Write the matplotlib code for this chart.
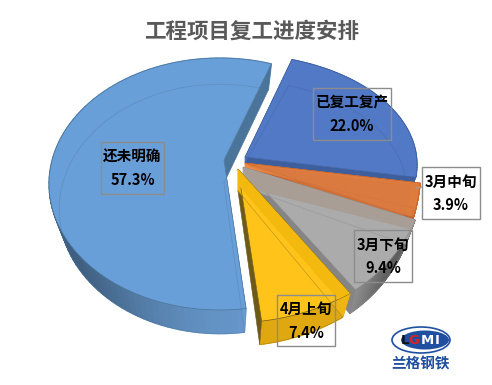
import matplotlib
matplotlib.use("Agg")
import matplotlib.pyplot as plt
import matplotlib.colors as mc
from matplotlib.patches import Polygon, Rectangle, Ellipse
import numpy as np

plt.rcParams["font.family"] = ["Noto Sans CJK SC", "DejaVu Sans"]

# Data
labels = ["还未明确", "4月上旬", "3月下旬", "3月中旬", "已复工复产"]
values = [57.3, 7.4, 9.4, 3.9, 22.0]
title = "工程项目复工进度安排"

# Layout of the exploded slices, in pixels (cx, cy, a, b, apex x, apex y, apex depth)
geom = [
    (220, 184, 171, 126, 224, 160, 23),
    (230, 163, 207, 160, 238, 169, 22),
    (258, 166, 168, 152, 243, 167, 20),
    (301, 166, 120, 145, 245, 163, 5),
    (238, 164.5, 179, 110, 245, 157, 6),
]
order = [2, 6, 5, 4, 3]
top_colors = ["#699FD8", "#FFC31A", "#ABABAB", "#DE7C3E", "#5279C5"]
wall_colors = ["#699BD0", "#F0B512", "#A8A8A8", "#EE8A42", "#4A6FB5"]
wall_darks = ["#3F5F80", "#E0A810", "#5E5E5E", "#D8702C", "#3F62A0"]
edge_colors = ["#4A749A", "#6E5A18", "#858585", "#C4622A", "#3E5F9E"]
dark_at = [205, 290, 328, 345, 30]
dark_width = [45, 60, 22, 40, 40]
box_xy = [(101, 142, 63, 52), (277, 295, 58, 51), (354, 230, 58, 52), (422, 167, 58, 52), (313, 88, 78, 52)]
start_angle = 72.5
depth = 25
inset_a = 0.94
inset_b = 0.99

fig = plt.figure(figsize=(4.92, 3.85), dpi=100)
ax = fig.add_axes([0, 0, 1, 1])
ax.set_xlim(0, 492)
ax.set_ylim(385, 0)
ax.axis("off")


def rim(g, t, bottom=False):
    cx, cy, a, b = g[:4]
    if bottom:
        return np.column_stack([cx + a * inset_a * np.cos(t), cy + depth + b * inset_b * -np.sin(t)])
    return np.column_stack([cx + a * np.cos(t), cy - b * np.sin(t)])


angles = start_angle + np.cumsum([0] + values) * 3.6

for i in range(len(values)):
    g = geom[i]
    t = np.radians(np.linspace(angles[i], angles[i + 1], 90))
    top_rim = rim(g, t)
    bot_rim = rim(g, t, bottom=True)
    apex = np.array([g[4], g[5]])
    apex_low = apex + [0, g[6]]
    z = order[i]

    # rim wall, shaded piece by piece
    for j in range(len(t) - 1):
        w = np.exp(-((np.degrees(t[j]) - dark_at[i]) / dark_width[i]) ** 2)
        col = np.array(mc.to_rgb(wall_colors[i])) * (1 - w) + np.array(mc.to_rgb(wall_darks[i])) * w
        quad = np.vstack([top_rim[j], top_rim[j + 1], bot_rim[j + 1], bot_rim[j]])
        ax.add_patch(Polygon(quad, fc=col, ec=col, lw=0.9, zorder=z))

    # radial walls: the one at the start of the slice is in shadow
    for k, c in ((0, edge_colors[i]), (-1, wall_colors[i])):
        wall = np.vstack([apex, top_rim[k], bot_rim[k], apex_low])
        ax.add_patch(Polygon(wall, fc=c, ec=c, lw=0.3, zorder=z + 0.05))

    # top face
    face = np.vstack([apex, top_rim])
    ax.add_patch(Polygon(face, fc=top_colors[i], ec=edge_colors[i], lw=0.5, zorder=z + 0.1))

    # bottom outline seen through the face
    outline = np.vstack([apex_low, bot_rim, apex_low])
    ax.plot(outline[:, 0], outline[:, 1], color=edge_colors[i], lw=0.6, alpha=0.35, zorder=z + 0.2)

# brownish back wall seen through the grey slice
g = geom[2]
t_end = np.radians(angles[3])
p_top = rim(g, np.array([t_end]))[0]
p_low = rim(g, np.array([t_end]), bottom=True)[0]
apex = np.array([g[4], g[5]])
back = np.vstack([apex, p_top, p_top + (p_low - p_top) * 0.4, apex + [8, 22]])
ax.add_patch(Polygon(back, fc="#A89E96", ec="none", zorder=order[2] + 0.3))

# darker inner part of the orange slice and the yellow strip
g = geom[3]
t_mid = np.radians(np.linspace(angles[3], angles[4], 20))
inner = np.vstack([[g[4], g[5] + 2], rim(g, t_mid) + [-10, 2]])
ax.add_patch(Polygon(inner, fc="#D87A42", ec="none", alpha=0.6, zorder=order[3] + 0.3))

g = geom[1]
t_mid = np.radians(np.array([angles[1] + 3, angles[2]]))
strip = np.vstack([[g[4], g[5]], rim(g, t_mid)])
ax.add_patch(Polygon(np.vstack([strip[0], strip[2], strip[2] + [-12, 6], strip[0] + [0, 16]]),
                     fc="#F3B90F", ec="none", zorder=order[1] + 0.3))

ax.text(252, 31, title, ha="center", va="center", fontsize=15.5, fontweight="bold", color="#595959", zorder=20)

# Data labels
for i in range(len(values)):
    x, y, w, h = box_xy[i]
    fill = "white" if i == 3 else "none"
    ax.add_patch(Rectangle((x, y), w, h, fc=fill, ec="#8C8C8C", lw=1.0, zorder=15))
    ax.text(x + w / 2, y + h * 0.28, labels[i], ha="center", va="center", fontsize=10.5, fontweight="bold",
            color="black", zorder=16)
    ax.text(x + w / 2, y + h * 0.74, f"{values[i]:.1f}%", ha="center", va="center", fontsize=10.5, fontweight="bold",
            color="black", zorder=16)
ax.plot([416, 422, 422], [188, 187, 187], color="#A0A0A0", lw=0.8, zorder=14)

# Logo
ax.add_patch(Ellipse((421, 340), 58, 26, fc="white", ec="#1F4FA0", lw=1.2, zorder=8))
ax.add_patch(Ellipse((425, 340), 48, 19, fc="#1F4FA0", ec="none", zorder=8.1))
for s, x, c in zip("LGMI", [405, 414, 427, 437], ["#111111", "#E02020", "#FFFFFF", "#FFFFFF"]):
    ax.text(x, 340, s, ha="center", va="center", fontsize=9.5, fontweight="bold", color=c, zorder=8.2,
            family="DejaVu Sans")
ax.text(421, 363, "兰格钢铁", ha="center", va="center", fontsize=10.5, fontweight="bold", color="#1F4FA0", zorder=8)

fig.savefig("out.png", dpi=100, facecolor="white")
